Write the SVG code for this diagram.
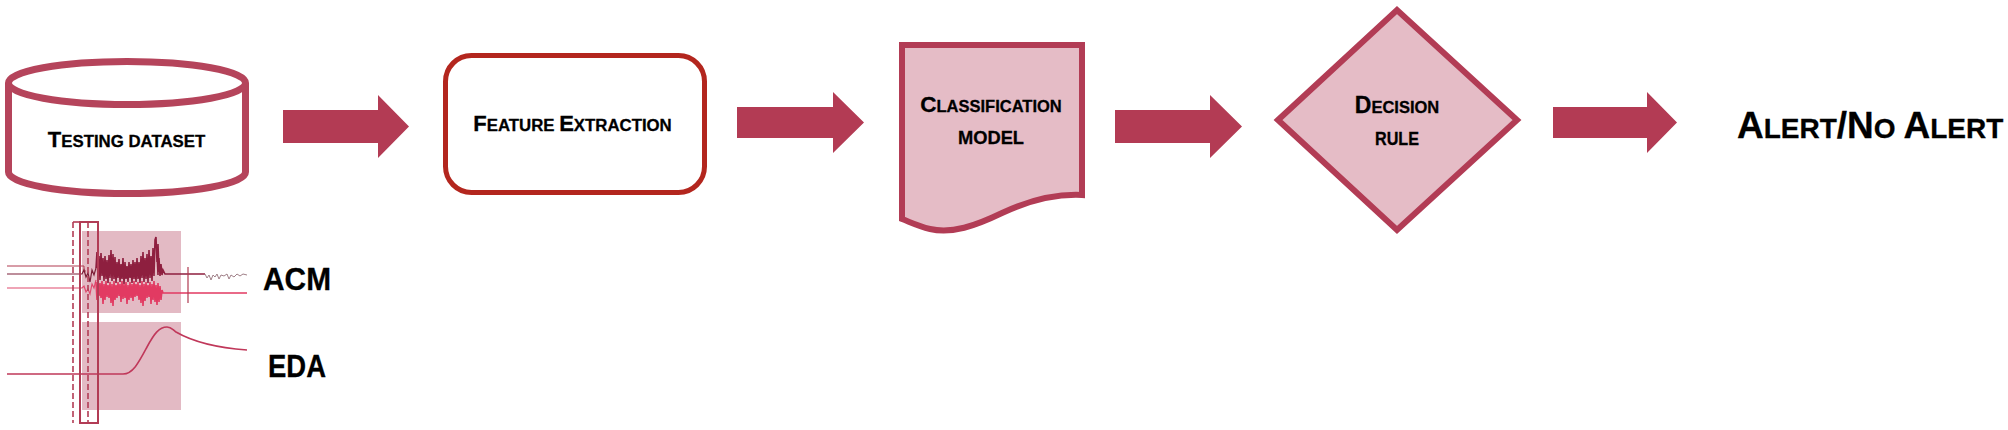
<svg xmlns="http://www.w3.org/2000/svg" width="2008" height="430" viewBox="0 0 2008 430">
<style>
.lbl{font-family:"Liberation Sans",Arial,sans-serif;font-weight:bold;fill:#000;stroke:#000;stroke-width:0.3;}
.arrow{fill:#b33b54;}
.shape{fill:#e5bcc6;stroke:#b23c55;stroke-width:6;}
.pink{fill:#e3bac4;}
</style>
<rect width="2008" height="430" fill="#fff"/>

<g id="testing-dataset">
  <path d="M8.5,83 V172 A118.5,21.5 0 0 0 245.5,172 V83" fill="#fff" stroke="#b5445b" stroke-width="7"/>
  <ellipse cx="127" cy="83" rx="118.5" ry="21.5" fill="#fff" stroke="#b5445b" stroke-width="7"/>
  <text class="lbl" x="126.5" y="147" text-anchor="middle"><tspan font-size="22">T</tspan><tspan font-size="16.8">ESTING DATASET</tspan></text>
</g>

<g id="signals">
  <rect class="pink" x="82" y="231" width="99" height="82"/>
  <rect class="pink" x="82" y="322" width="99" height="88"/>
  <polyline points="7,266 82,266 84,266 84,271 86,271" fill="none" stroke="#b03a50" stroke-width="1"/>
  <polyline points="7,274 82,274 84,270 86,277 88,273 90,282 92,270 94,275 96,268" fill="none" stroke="#7d1f38" stroke-width="1.2"/>
  <polyline points="7,288 82,288 84,286 86,292 88,289 90,294 92,284 94,288 96,280" fill="none" stroke="#e04a6e" stroke-width="1.2"/>
  <polyline fill="none" stroke="#8e1f3f" stroke-width="1.6" points="96,268 97,252 98,278 99,256 100,280 101,253 102,276 103,258 104,281 105,256 106,279 107,260 108,283 109,255 110,278 111,250 112,281 113,254 114,279 115,257 116,283 117,262 118,278 119,259 120,282 121,264 122,279 123,258 124,284 125,262 126,279 127,266 128,282 129,262 130,278 131,264 132,283 133,260 134,279 135,262 136,282 137,258 138,279 139,262 140,283 141,256 142,278 143,252 144,282 145,258 146,279 147,254 148,283 149,250 150,278 151,256 152,281 153,248 154,276 155,240 156,237 157,262 157,252 158,275 158,244 159,272 159,258 160,276 161,264 162,275 163,270 165,274 175,274 190,274 205,274"/>
  <polyline fill="none" stroke="#e23a62" stroke-width="1.6" points="96,282 97,300 98,280 99,296 100,283 101,298 102,281 103,304 104,284 105,300 106,281 107,297 108,285 109,298 110,282 111,303 112,284 113,306 114,281 115,300 116,285 117,298 118,282 119,296 120,284 121,302 122,281 123,299 124,284 125,298 126,282 127,304 128,285 129,300 130,282 131,298 132,284 133,301 134,281 135,297 136,284 137,296 138,282 139,300 140,285 141,303 142,281 143,306 144,284 145,301 146,282 147,298 148,285 149,297 150,282 151,304 152,284 153,300 154,281 155,302 156,285 157,305 158,283 159,302 160,286 161,300 162,290 163,293 247,293"/>
  <line x1="188" y1="267" x2="188" y2="303" stroke="#b03a50" stroke-width="1.2"/>
  <polyline fill="none" stroke="#a08088" stroke-width="1" points="205,274 207,278 209,275 211,280 213,275 215,277 217,274 219,279 221,275 224,276 227,274 229,279 231,275 234,277 237,274 240,276 243,274 247,275"/>
  <path d="M7,374 L123,374 C133,374 139,362 147,347 C154,334 159,327 167,327 C171,327 172,329 176,332 C195,343 220,348 247,350" fill="none" stroke="#c0385a" stroke-width="1.6"/>
  <line x1="73" y1="222" x2="73" y2="423" stroke="#b23c55" stroke-width="1.6" stroke-dasharray="6 3"/>
  <line x1="88" y1="222" x2="88" y2="423" stroke="#b23c55" stroke-width="1.6" stroke-dasharray="6 3"/>
  <line x1="73" y1="222" x2="80" y2="222" stroke="#b23c55" stroke-width="1.6"/>
  <rect x="80" y="222" width="18" height="201" fill="none" stroke="#b23c55" stroke-width="2"/>
  <text class="lbl" x="263" y="290" font-size="32" textLength="68" lengthAdjust="spacingAndGlyphs">ACM</text>
  <text class="lbl" x="268" y="377" font-size="32" textLength="58" lengthAdjust="spacingAndGlyphs">EDA</text>
</g>

<g id="feature-extraction">
  <rect x="445.5" y="55.5" width="259" height="137" rx="26" ry="26" fill="#fff" stroke="#b3261e" stroke-width="5"/>
  <text class="lbl" x="572.5" y="131" text-anchor="middle"><tspan font-size="22">F</tspan><tspan font-size="16.8">EATURE </tspan><tspan font-size="22">E</tspan><tspan font-size="16.8">XTRACTION</tspan></text>
</g>

<g id="classification-model">
  <path class="shape" d="M902,45 H1082 V195 C1060,194 1032,199 1002,213 C975,226 952,234 930,229 C918,226 910,222 902,219 Z"/>
  <text class="lbl" x="991" y="112" text-anchor="middle"><tspan font-size="22.5">C</tspan><tspan font-size="16.5">LASSIFICATION</tspan></text>
  <text class="lbl" x="958" y="144" font-size="18" textLength="66" lengthAdjust="spacingAndGlyphs">MODEL</text>
</g>

<g id="decision-rule">
  <polygon class="shape" points="1278,120 1397,10 1517,120 1397,230"/>
  <text class="lbl" x="1397" y="113" text-anchor="middle"><tspan font-size="23">D</tspan><tspan font-size="16.5">ECISION</tspan></text>
  <text class="lbl" x="1375" y="145" font-size="18" textLength="44" lengthAdjust="spacingAndGlyphs">RULE</text>
</g>

<g id="alert">
  <text class="lbl" x="1737" y="138"><tspan font-size="37">A</tspan><tspan font-size="28">LERT</tspan><tspan font-size="37">/N</tspan><tspan font-size="28">O </tspan><tspan font-size="37">A</tspan><tspan font-size="28">LERT</tspan></text>
</g>

<g id="connectors">
  <polygon class="arrow" points="283,110 378,110 378,95 409,126.5 378,158 378,143 283,143"/>
  <polygon class="arrow" points="737,107 833,107 833,92 864,122.5 833,153 833,138 737,138"/>
  <polygon class="arrow" points="1115,110 1210,110 1210,95 1242,126.5 1210,158 1210,143 1115,143"/>
  <polygon class="arrow" points="1553,107 1647,107 1647,92 1677,122.5 1647,153 1647,138 1553,138"/>
</g>
</svg>
